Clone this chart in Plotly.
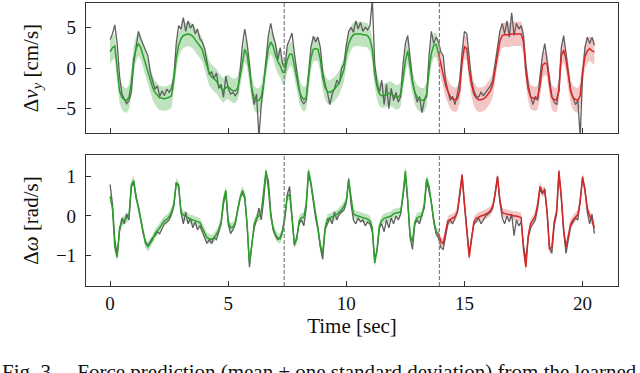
import plotly.graph_objects as go

# ---------------- data ----------------
dt = 0.1  # sampling step of the traces [sec]

vy_mean = [
    2.0, 2.5, 2.7, -0.2, -2.8, -3.6, -3.9, -4.0, -3.6, -1.8,
    1.2, 2.4, 3.0, 2.5, 1.5, 0.5, -0.3, -1.5, -2.4, -3.0,
    -3.4, -3.7, -3.7, -3.8, -3.7, -3.6, -3.4, -1.5, 1.2, 2.8,
    3.6, 4.0, 4.1, 4.2, 4.1, 3.9, 3.5, 3.1, 2.7, 2.3,
    1.2, 0.3, -0.7, -1.1, -1.4, -1.6, -2.1, -2.5, -2.8, -2.4,
    -2.3, -2.6, -2.8, -2.8, -2.5, -1.1, 0.8, 2.3, 1.6, -0.5,
    -2.5, -3.7, -4.0, -4.0, -3.5, -1.9, 0.6, 2.4, 3.2, 2.7,
    1.6, 0.8, 0.3, -0.5, -0.6, 1.0, 1.7, 1.7, 0.3, -1.4,
    -2.7, -3.5, -3.9, -3.6, -1.5, 1.2, 2.3, 2.4, 2.3, 1.0,
    -1.2, -2.4, -2.9, -3.0, -2.8, -2.6, -2.2, -1.8, -1.0, -0.2,
    1.8, 3.0, 3.7, 4.1, 4.2, 4.2, 4.2, 4.1, 4.1, 4.0,
    3.5, 2.3, -0.8, -2.3, -3.2, -3.4, -3.4, -3.3, -3.1, -3.2,
    -3.4, -3.6, -3.6, -3.2, -1.4, 0.9, 2.1, 0.0, -1.8, -3.0,
    -3.6, -3.8, -4.0, -3.9, -3.2, -0.3, 1.8, 2.8, 2.9, 1.8,
    0.4, -0.9, -2.1, -2.9, -3.5, -3.8, -3.9, -3.8, -2.8, 0.8,
    2.6, 2.4, -0.3, -2.0, -3.2, -3.7, -3.9, -3.9, -3.8, -3.6,
    -3.2, -2.8, -2.0, -0.2, 1.9, 3.3, 4.0, 4.1, 4.1, 4.1,
    4.2, 4.2, 4.2, 4.2, 4.2, 3.2, -0.5, -2.6, -3.6, -3.7,
    -3.8, -3.6, -2.2, 0.3, 0.6, 0.5, -2.0, -3.6, -3.9, -3.9,
    -2.8, 1.5, 2.2, 1.0, -1.2, -2.9, -3.7, -3.9, -4.0, -3.4,
    -0.5, 1.4, 2.1, 2.4, 2.1, 2.0,
]

vy_meas = [
    3.5, 4.2, 5.3, 3.0, -1.0, -3.2, -3.8, -4.4, -4.0, -3.0,
    0.5, 2.8, 4.5, 3.6, 3.0, 2.2, 1.5, -0.5, -1.6, -2.6,
    -2.2, -3.5, -2.8, -3.4, -2.6, -3.0, -2.5, -1.0, 3.0, 5.2,
    4.8, 6.2, 4.5, 5.8, 4.9, 5.4, 4.2, 4.8, 3.6, 3.2,
    2.4, 0.5, -0.8, -0.5, -1.3, -0.6, -2.5, -2.0, -3.6, -1.0,
    -2.5, -3.2, -3.0, -3.4, -3.0, -0.5, 2.8, 4.8, 3.0, 0.5,
    -2.8, -4.5, -3.2, -8.5, -4.5, -2.0, 1.5, 4.0, 5.5, 4.0,
    3.0, 1.0, 2.5, 0.5, 0.0, 2.8, 3.5, 4.3, 1.8, -0.5,
    -2.5, -4.0, -4.4, -4.0, -1.0, 2.5, 3.9, 3.2, 3.8, 2.5,
    -0.5, -2.0, -3.0, -4.5, -3.2, -2.5, -1.5, -2.0, 0.0, 0.5,
    2.8, 4.5, 5.0, 4.4, 5.8, 4.8, 5.6, 4.5, 5.0, 4.7,
    5.2, 8.5, 0.5, -1.8, -3.0, -1.5, -4.5, -2.0, -5.0, -2.5,
    -4.0, -3.0, -4.2, -3.5, 0.5, 3.0, 4.0, 1.5, -1.5, -3.0,
    -4.2, -3.5, -5.5, -4.0, -3.5, 1.5, 4.5, 3.0, 3.8, 3.2,
    2.0, 1.5, -1.5, -2.8, -4.0, -3.5, -4.5, -3.2, -1.5, 2.0,
    4.5, 4.2, 1.0, -1.5, -2.8, -3.5, -3.6, -3.0, -3.4, -3.0,
    -2.5, -2.2, -1.5, 0.5, 3.0, 4.5, 5.5, 4.2, 5.8, 3.8,
    6.8, 4.0, 5.5, 4.8, 5.2, 4.0, 0.5, -2.0, -3.5, -4.5,
    -3.5, -4.0, -1.0, 1.5, 3.0, 1.0, -1.5, -3.5, -4.2, -4.5,
    -2.5, 2.5, 4.0, 2.0, -0.5, -2.8, -3.8, -4.5, -4.0, -8.5,
    -1.0, 2.5, 3.8, 3.0, 3.8, 2.8,
]

w_mean = [
    0.5, 0.2, -0.8, -1.05, -0.3, -0.15, -0.1, -0.05, 0.0, 0.8,
    0.9, 0.5, 0.2, -0.1, -0.4, -0.7, -0.78, -0.7, -0.6, -0.45,
    -0.38, -0.3, -0.2, -0.12, -0.09, -0.02, 0.1, 0.3, 0.85, 0.75,
    0.1, 0.02, 0.0, -0.05, -0.09, -0.1, -0.13, -0.15, -0.17, -0.3,
    -0.45, -0.55, -0.58, -0.6, -0.55, -0.47, -0.35, -0.15, 0.4, 0.65,
    -0.15, -0.3, -0.28, -0.17, 0.15, 0.45, 0.65, 0.5, -0.2, -1.2,
    -0.75, -0.2, -0.05, 0.0, 0.1, 0.65, 1.15, 0.7, 0.0, -0.3,
    -0.48, -0.56, -0.58, -0.4, -0.05, 0.5, 0.55, -0.05, -0.7, -0.6,
    -0.12, -0.04, -0.04, 0.3, 1.15, 0.85, 0.4, 0.05, -0.3, -0.75,
    -0.95, -0.3, -0.08, -0.05, -0.02, 0.0, 0.04, 0.1, 0.16, 0.25,
    0.38, 0.9, 0.45, 0.05, 0.02, 0.0, -0.02, -0.04, -0.05, -0.08,
    -0.12, -0.3, -1.2, -0.85, -0.25, -0.12, -0.06, -0.04, -0.02, 0.0,
    0.06, 0.08, 0.08, 0.1, 0.55, 1.15, 0.4, -0.5, -0.65, -0.15,
    -0.04, -0.02, 0.0, 0.3, 0.95, 0.75, 0.3, -0.1, -0.4, -0.45,
    -0.65, -0.7, -0.45, -0.12, -0.09, -0.05, -0.02, 0.1, 0.55, 1.05,
    0.3, -0.4, -1.05, -0.6, -0.15, -0.06, -0.02, 0.0, 0.02, 0.04,
    0.08, 0.13, 0.25, 0.55, 1.0, 0.4, 0.08, 0.06, 0.05, 0.04,
    0.02, 0.0, 0.0, -0.02, -0.04, -0.85, -1.3, -0.5, -0.2, -0.1,
    0.0, 0.3, 0.75, 0.6, 0.64, 0.1, -0.85, -0.8, -0.15, 0.1,
    1.15, 0.5, -0.35, -0.8, -0.5, -0.2, -0.1, -0.02, 0.04, 0.35,
    1.0, 0.65, 0.2, 0.0, -0.1, -0.3,
]

w_meas = [
    0.8, 0.3, -0.6, -1.0, -0.4, -0.05, -0.2, 0.05, -0.1, 0.75,
    0.85, 0.45, 0.25, -0.15, -0.45, -0.65, -0.75, -0.65, -0.55, -0.5,
    -0.4, -0.45, -0.3, -0.2, -0.15, -0.1, 0.05, 0.25, 0.85, 0.8,
    0.1, -0.2, 0.1, -0.2, -0.05, -0.3, -0.15, -0.35, -0.25, -0.4,
    -0.6, -0.7, -0.6, -0.7, -0.55, -0.6, -0.4, -0.2, 0.3, 0.6,
    -0.2, -0.45, -0.35, -0.2, 0.15, 0.45, 0.6, 0.45, -0.25, -1.3,
    -0.7, -0.3, -0.1, 0.2, -0.1, 0.4, 1.1, 0.9, 0.1, -0.35,
    -0.5, -0.6, -0.55, -0.35, 0.0, 0.55, 0.75, 0.0, -0.75, -0.55,
    -0.2, -0.1, -0.25, 0.2, 1.1, 0.8, 0.35, -0.05, -0.35, -0.8,
    -1.1, -0.35, -0.2, -0.05, -0.2, 0.1, -0.1, 0.05, 0.1, 0.15,
    0.35, 0.95, 0.3, -0.1, -0.2, -0.05, -0.15, -0.1, -0.25, -0.15,
    -0.2, -0.4, -1.1, -0.9, -0.3, -0.2, -0.4, -0.1, -0.3, -0.05,
    -0.2, 0.0, -0.1, 0.05, 0.5, 1.05, 0.35, -0.55, -0.85, -0.2,
    -0.1, -0.2, 0.05, 0.2, 0.9, 0.65, 0.35, -0.15, -0.45, -0.55,
    -0.8, -0.85, -0.5, -0.2, -0.1, -0.2, -0.05, 0.1, 0.5, 1.0,
    0.3, -0.35, -0.95, -0.55, -0.2, -0.15, -0.05, -0.2, -0.1, 0.0,
    0.05, 0.1, 0.2, 0.55, 1.0, 0.35, -0.05, -0.2, 0.0, -0.15,
    0.05, -0.5, -0.1, -0.25, -0.15, -0.75, -1.1, -0.55, -0.3, -0.2,
    -0.1, 0.2, 0.7, 0.55, 0.7, 0.05, -0.8, -0.95, -0.25, 0.05,
    1.05, 0.45, -0.4, -0.95, -0.55, -0.25, -0.15, -0.05, -0.1, 0.5,
    0.95, 0.7, 0.1, -0.2, 0.05, -0.45,
]

vy_std = 1.5     # predictive std of the v_y model [cm/s]
w_std = 0.12     # predictive std of the omega model [rad/s]
marker_times = [7.37, 13.94]   # dashed vertical separators [sec]
train_end = 13.9               # last sample drawn in green
x_ticks = [0, 5, 10, 15, 20]
vy_ticks = [-5, 0, 5]
w_ticks = [-1, 0, 1]
caption = ("Fig. 3.\u2003Force prediction (mean \u00b1 one standard deviation) "
           "from the learned model")

# ---------------- figure ----------------
t = [round(i * dt, 2) for i in range(len(vy_mean))]
split = max(i for i, v in enumerate(t) if v <= train_end + 1e-9)

GREEN = "#2ca02c"
RED = "#d62728"
GRAY = "#5f5f5f"
GREEN_BAND = "rgba(44,160,44,0.30)"
RED_BAND = "rgba(214,39,40,0.27)"

fig = go.Figure()


def add_panel(mean, meas, std, xa, ya):
    segs = [(0, split + 1, GREEN, GREEN_BAND), (split, len(t), RED, RED_BAND)]
    for a, b, col, band in segs:
        ts = t[a:b]
        up = [m + std for m in mean[a:b]]
        lo = [m - std for m in mean[a:b]]
        fig.add_trace(go.Scatter(x=ts + ts[::-1], y=up + lo[::-1], fill="toself",
                                 fillcolor=band, line=dict(width=0), mode="lines",
                                 hoverinfo="skip", showlegend=False, xaxis=xa, yaxis=ya))
    fig.add_trace(go.Scatter(x=t, y=meas, mode="lines", line=dict(color=GRAY, width=1.3),
                             showlegend=False, xaxis=xa, yaxis=ya))
    for a, b, col, band in segs:
        fig.add_trace(go.Scatter(x=t[a:b], y=mean[a:b], mode="lines",
                                 line=dict(color=col, width=1.5),
                                 showlegend=False, xaxis=xa, yaxis=ya))


add_panel(vy_mean, vy_meas, vy_std, "x", "y")
add_panel(w_mean, w_meas, w_std, "x2", "y2")

FONT = "Liberation Serif"
TICK_SIZE = 19
TITLE_SIZE = 21
axis_common = dict(showline=True, mirror=True, linecolor="#333333", linewidth=1.2,
                   ticks="inside", ticklen=5, tickwidth=1, tickcolor="#333333",
                   showgrid=False, zeroline=False,
                   tickfont=dict(family=FONT, size=TICK_SIZE, color="#111"))

fig.update_layout(
    width=640, height=373,
    margin=dict(l=86, r=22, t=3, b=87),
    paper_bgcolor="white", plot_bgcolor="white",
    font=dict(family=FONT, size=TICK_SIZE, color="#111"),
    xaxis=dict(domain=[0, 1], anchor="y", range=[-1.02, 21.5], tickvals=x_ticks,
               showticklabels=False, **axis_common),
    xaxis2=dict(domain=[0, 1], anchor="y2", range=[-1.02, 21.5], tickvals=x_ticks,
                ticklabelstandoff=0,
                title=dict(text="Time [sec]", font=dict(family=FONT, size=TITLE_SIZE),
                           standoff=5),
                **axis_common),
    yaxis=dict(domain=[0.5406, 1], anchor="x", range=[-8, 8], tickvals=vy_ticks,
               ticklabelstandoff=5,
               title=dict(text="\u0394<i>v<sub>y</sub></i> [cm/s]",
                          font=dict(family=FONT, size=TITLE_SIZE), standoff=11),
               **axis_common),
    yaxis2=dict(domain=[0, 0.4629], anchor="x2", range=[-1.78, 1.55], tickvals=w_ticks,
                ticklabelstandoff=5,
                title=dict(text="\u0394<i>\u03c9</i> [rad/s]",
                           font=dict(family=FONT, size=TITLE_SIZE), standoff=11),
                **axis_common),
)

for xv in marker_times:
    for xr, dom in (("x", [0.5406, 1]), ("x2", [0, 0.4629])):
        fig.add_shape(type="line", xref=xr, yref="paper", x0=xv, x1=xv,
                      y0=dom[0], y1=dom[1],
                      line=dict(color="#808080", width=1.2, dash="4px,2px"))

fig.add_annotation(text=caption, xref="paper", yref="paper", x=-0.1617, y=-0.254,
                   xanchor="left", yanchor="top", showarrow=False,
                   font=dict(family=FONT, size=21, color="#111"))

fig.write_html("out.html",
               config={"displayModeBar": False},
               post_script="document.body.style.margin='0';"
                           "document.body.style.overflow='hidden';")
